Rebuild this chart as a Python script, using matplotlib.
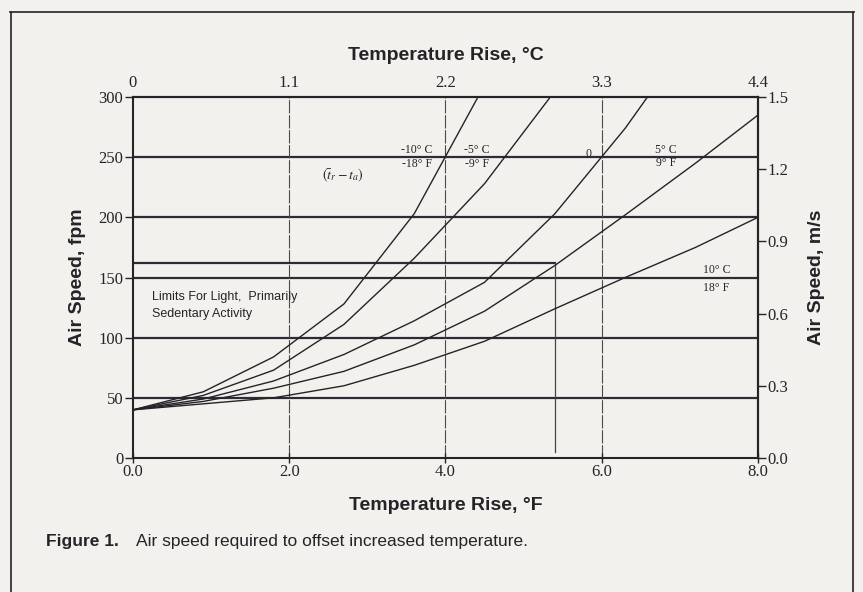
import matplotlib
matplotlib.use("Agg")
import matplotlib.pyplot as plt
from matplotlib.lines import Line2D

# =========================================================
# DATA
# =========================================================
rise_f = [0.0, 0.9, 1.8, 2.7, 3.6, 4.5, 5.4, 6.3, 7.2, 8.0]  # every 0.5 C

speed_m10 = [40, 55, 84, 128, 203, 310]                    # -10 C / -18 F
speed_m5 = [40, 52, 73, 111, 166, 228, 305]                # -5 C / -9 F
speed_0 = [40, 49, 64, 86, 114, 146, 203, 274, 356]        # 0
speed_p5 = [40, 47, 58, 72, 94, 122, 160, 202, 245, 285]   # 5 C / 9 F
speed_p10 = [40, 45, 50, 60, 77, 97, 124, 150, 175, 200]   # 10 C / 18 F

label_c = ["-10° C", "-5° C", "0", "5° C", "10° C"]
label_f = ["-18° F", "-9° F", "", "9° F", "18° F"]

limit_rise_f = 5.4
limit_speed = 162

xticks_f = [0, 2, 4, 6, 8]
yticks_fpm = [0, 50, 100, 150, 200, 250, 300]
xticks_c_lbl = ["0", "1.1", "2.2", "3.3", "4.4"]
yticks_ms = [0.0, 0.3, 0.6, 0.9, 1.2, 1.5]

# =========================================================
# STYLE
# =========================================================
plt.rcParams["mathtext.fontset"] = "stix"
SERIF = ["Liberation Serif", "DejaVu Serif"]
SANS = ["Liberation Sans", "DejaVu Sans"]
INK = "#262228"
GRID = "#2e2a36"
BG = "#f3f1ed"

fig = plt.figure(figsize=(8.63, 5.92), dpi=100, facecolor=BG)
ax = fig.add_axes([0.1541, 0.2264, 0.7242, 0.6097])
ax.set_facecolor(BG)

ax.set_xlim(0, 8)
ax.set_ylim(0, 300)

# grid: heavy horizontals, light verticals
for y in yticks_fpm[1:-1]:
    ax.axhline(y, color=GRID, lw=1.6, zorder=1)
for x in xticks_f[1:-1]:
    ax.axvline(x, color="#4a4a4a", lw=0.8, ls=(0, (12, 1.5)), zorder=1)

# curves
series = [speed_m10, speed_m5, speed_0, speed_p5, speed_p10]
for s in series:
    ax.plot(rise_f[:len(s)], s, color=INK, lw=1.0, zorder=3)

# limit box
ax.plot([0, limit_rise_f], [limit_speed, limit_speed], color=GRID, lw=1.6, zorder=2)
ax.plot([limit_rise_f, limit_rise_f], [5, limit_speed], color="#444", lw=0.9, zorder=2)

# curve labels
label_pos = [(3.83, 256, 244), (4.40, 256, 244), (5.83, 253, None),
             (6.82, 256, 245), (7.47, 156, 141)]
for (x, yc, yf), lc, lf in zip(label_pos, label_c, label_f):
    ha = "right" if x < 4 else "center"
    ax.text(x, yc, lc, ha=ha, va="center", fontsize=8.5, family=SERIF,
            color=INK, zorder=4)
    if yf is not None and lf:
        ax.text(x, yf, lf, ha=ha, va="center", fontsize=8.5, family=SERIF,
                color=INK, zorder=4)
ax.text(2.69, 235, r"$(\bar{t}_r - t_a)$", ha="center", va="center",
        fontsize=10, color=INK, zorder=4)
ax.text(0.24, 127, "Limits For Light,  Primarily\nSedentary Activity",
        ha="left", va="center", fontsize=9, family=SANS, color=INK,
        linespacing=1.55, zorder=4)

# axes / ticks
for sp in ax.spines.values():
    sp.set_linewidth(1.5)
    sp.set_color(INK)
ax.set_xticks(xticks_f)
ax.set_xticklabels([f"{v:.1f}" for v in xticks_f])
ax.set_yticks(yticks_fpm)
ax.tick_params(axis="x", direction="inout", length=7, width=1, pad=1,
               colors=INK, labelsize=12)
ax.tick_params(axis="y", direction="out", length=6, width=1, pad=1,
               colors=INK, labelsize=12)
for t in ax.get_xticklabels() + ax.get_yticklabels():
    t.set_family(SERIF)

ax.set_xlabel("Temperature Rise, °F", fontsize=14, fontweight="bold",
              family=SANS, color=INK, labelpad=12)
ax.set_ylabel("Air Speed, fpm", fontsize=14, fontweight="bold",
              family=SANS, color=INK, labelpad=9)

top = ax.secondary_xaxis("top", functions=(lambda f: f * 5 / 9, lambda c: c * 9 / 5))
top.set_xticks([v * 5 / 9 for v in xticks_f])
top.set_xticklabels(xticks_c_lbl)
top.tick_params(length=0, pad=4, labelsize=12, colors=INK)
for t in top.get_xticklabels():
    t.set_family(SERIF)
top.set_xlabel("Temperature Rise, °C", fontsize=14, fontweight="bold",
               family=SANS, color=INK, labelpad=11)
top.spines["top"].set_linewidth(1.5)

right = ax.secondary_yaxis("right", functions=(lambda y: y / 200, lambda m: m * 200))
right.set_yticks(yticks_ms)
right.set_yticklabels([f"{v:.1f}" for v in yticks_ms])
right.tick_params(direction="out", length=6, width=1, pad=1, labelsize=12,
                  colors=INK)
for t in right.get_yticklabels():
    t.set_family(SERIF)
right.set_ylabel("Air Speed, m/s", fontsize=14, fontweight="bold",
                 family=SANS, color=INK, labelpad=14)
right.spines["right"].set_linewidth(1.5)

# caption
fig.text(0.053, 0.085, "Figure 1.", fontsize=12.5, fontweight="bold",
         family=SANS, color=INK, va="center")
fig.text(0.158, 0.085, "Air speed required to offset increased temperature.",
         fontsize=12.5, family=SANS, color=INK, va="center")

# page frame
for xs, ys in [([0.012, 0.99], [0.98, 0.98]),
               ([0.013, 0.013], [0.0, 0.98]),
               ([0.988, 0.988], [0.0, 0.98])]:
    fig.add_artist(Line2D(xs, ys, transform=fig.transFigure, color=INK, lw=1.2))

fig.savefig("out.png", dpi=100, facecolor=BG)
